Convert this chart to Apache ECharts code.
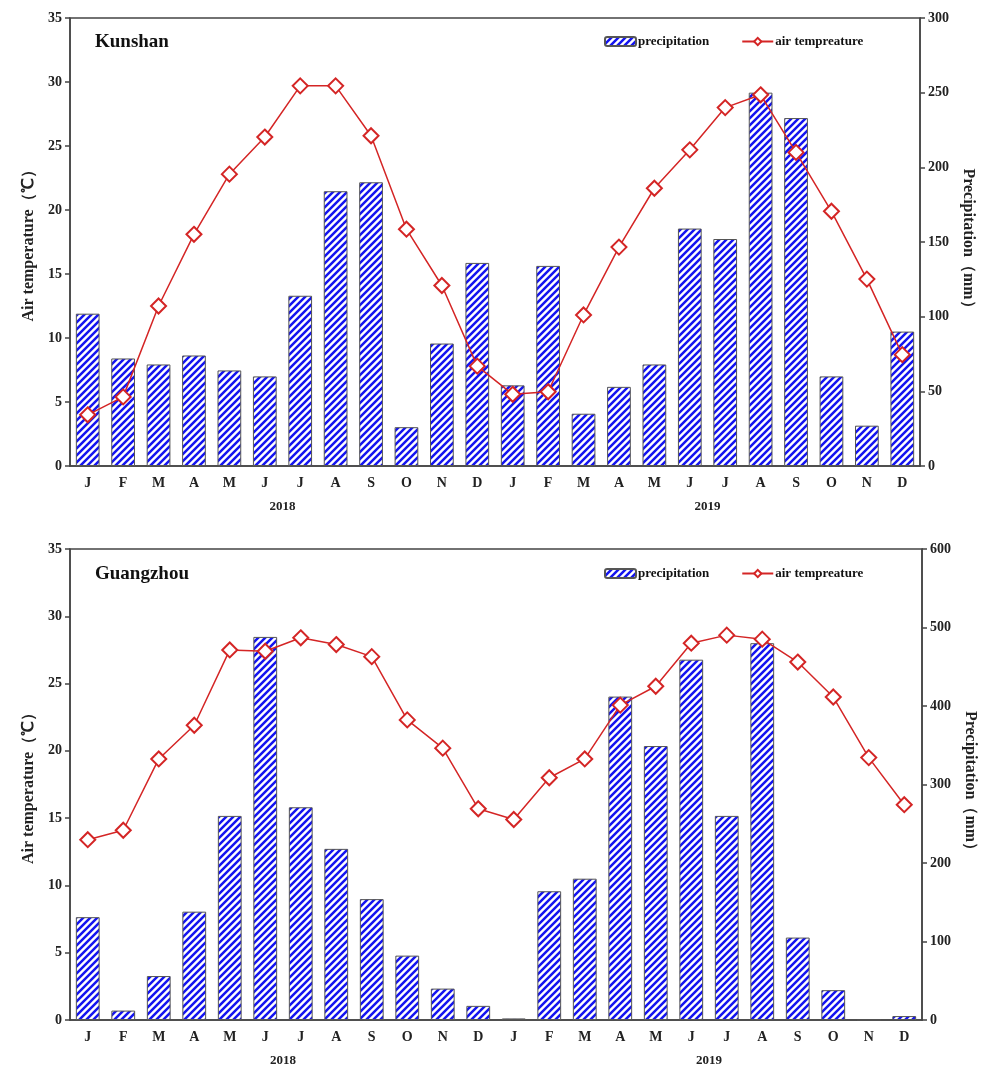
<!DOCTYPE html>
<html>
<head>
<meta charset="utf-8">
<script src="https://cdn.jsdelivr.net/npm/echarts@6/dist/echarts.min.js"></script>
<style>
html,body{margin:0;padding:0;background:#fff;}
#main{width:987px;height:1072px;}
</style>
</head>
<body>
<div id="main"></div>
<script>
const monthLabels = ['J','F','M','A','M','J','J','A','S','O','N','D','J','F','M','A','M','J','J','A','S','O','N','D'];
const yearLabels = ['2018','2019'];
const kunshanPrecip = [102,72,68,74,64,60,114,184,190,26,82,136, 54,134,35,53,68,159,152,250,233,60,27,90];
const kunshanTemp = [4.0,5.4,12.5,18.1,22.8,25.7,29.7,29.7,25.8,18.5,14.1,7.8, 5.6,5.8,11.8,17.1,21.7,24.7,28.0,29.0,24.5,19.9,14.6,8.7];
const guangzhouPrecip = [131,12,56,138,260,488,271,218,154,82,40,18, 2,164,180,412,349,459,260,480,105,38,0,5];
const guangzhouTemp = [13.4,14.1,19.4,21.9,27.5,27.4,28.4,27.9,27.0,22.3,20.2,15.7, 14.9,18.0,19.4,23.4,24.8,28.0,28.6,28.3,26.6,24.0,19.5,16.0];
const tempTicks = {min:0, max:35, interval:5};
const kunshanPrecipTicks = {min:0, max:300, interval:50};
const guangzhouPrecipTicks = {min:0, max:600, interval:100};

function makeHatch(){
  const p = 7;
  const c = document.createElement('canvas');
  c.width = p; c.height = p;
  const g = c.getContext('2d');
  g.fillStyle = '#ffffff';
  g.fillRect(0,0,p,p);
  g.strokeStyle = '#1414f0';
  g.lineWidth = 2.5;
  g.beginPath();
  for (let k = -1; k <= 1; k++) {
    g.moveTo(-2 + k*p, p + 2); g.lineTo(p + 2 + k*p, -2);
  }
  g.stroke();
  return c;
}
const hatch = {image: makeHatch(), repeat: 'repeat'};

const serif = '"Liberation Serif","Times New Roman",serif';
const axisColor = '#444';
const red = '#d42525';

function xAxes(gi){
  return [
    {type:'category', gridIndex:gi, data:monthLabels, boundaryGap:true,
     axisLine:{show:true, lineStyle:{color:axisColor, width:1.5}},
     axisTick:{show:false},
     axisLabel:{fontFamily:serif, fontWeight:'bold', fontSize:14, color:'#222', margin:10, interval:0}},
    {type:'category', gridIndex:gi, data:yearLabels, position:'bottom', offset:26,
     axisLine:{show:false}, axisTick:{show:false},
     axisLabel:{fontFamily:serif, fontWeight:'bold', fontSize:13, color:'#222', interval:0}}
  ];
}
function yAxes(gi, precipTicks){
  return [
    Object.assign({type:'value', gridIndex:gi, position:'left',
     name:'Air temperature（℃）', nameLocation:'middle', nameGap:32, nameRotate:90,
     nameTextStyle:{fontFamily:serif, fontWeight:'bold', fontSize:16, color:'#222'},
     splitLine:{show:false},
     axisLine:{show:true, lineStyle:{color:axisColor, width:1.5}},
     axisTick:{show:true, length:5, lineStyle:{color:axisColor, width:1.5}},
     axisLabel:{fontFamily:serif, fontWeight:'bold', fontSize:14, color:'#222', margin:8}}, tempTicks),
    Object.assign({type:'value', gridIndex:gi, position:'right',
     name:'Precipitation（mm）', nameLocation:'middle', nameGap:40, nameRotate:-90,
     nameTextStyle:{fontFamily:serif, fontWeight:'bold', fontSize:16, color:'#222'},
     splitLine:{show:false},
     axisLine:{show:true, lineStyle:{color:axisColor, width:1.5}},
     axisTick:{show:true, length:5, lineStyle:{color:axisColor, width:1.5}},
     axisLabel:{fontFamily:serif, fontWeight:'bold', fontSize:14, color:'#222', margin:8}}, precipTicks)
  ];
}
function seriesFor(gi, precip, temp){
  return [
    {name:'precipitation', type:'bar', xAxisIndex:gi*2, yAxisIndex:gi*2+1, data:precip,
     barWidth:'67%', itemStyle:{color:hatch, borderColor:'#555', borderWidth:1}},
    {name:'air tempreature', type:'line', xAxisIndex:gi*2, yAxisIndex:gi*2, data:temp,
     symbol:'diamond', symbolSize:15, showSymbol:true,
     lineStyle:{color:red, width:1.5},
     itemStyle:{color:'#fff', borderColor:red, borderWidth:2}, z:5}
  ];
}
function legendAt(top){
  return {top:top, left:604, itemWidth:31, itemHeight:9, itemGap:32, padding:0,
    data:['precipitation','air tempreature'],
    textStyle:{fontFamily:serif, fontWeight:'bold', fontSize:13, color:'#111', padding:[0,0,0,-3]}};
}

const chart = echarts.init(document.getElementById('main'), null, {renderer:'canvas'});
chart.setOption({
  animation:false,
  backgroundColor:'#fff',
  title:[
    {text:'Kunshan', left:90, top:28, textStyle:{fontFamily:serif, fontWeight:'bold', fontSize:19, color:'#111'}},
    {text:'Guangzhou', left:90, top:560, textStyle:{fontFamily:serif, fontWeight:'bold', fontSize:19, color:'#111'}}
  ],
  legend:[legendAt(35), legendAt(567)],
  grid:[
    {left:70, top:18, width:850, height:448, show:true, borderColor:axisColor, borderWidth:1.5, backgroundColor:'transparent'},
    {left:70, top:549, width:852, height:471, show:true, borderColor:axisColor, borderWidth:1.5, backgroundColor:'transparent'}
  ],
  xAxis: xAxes(0).concat(xAxes(1)),
  yAxis: yAxes(0, kunshanPrecipTicks).concat(yAxes(1, guangzhouPrecipTicks)),
  series: seriesFor(0, kunshanPrecip, kunshanTemp).concat(seriesFor(1, guangzhouPrecip, guangzhouTemp))
});
</script>
</body>
</html>
